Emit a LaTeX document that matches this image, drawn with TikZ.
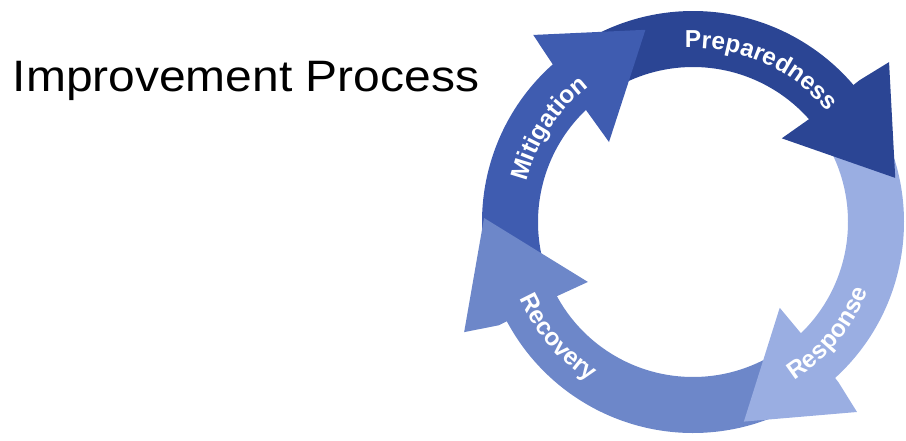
\documentclass[tikz,border=0pt]{standalone}
\usepackage{fontspec}
\setmainfont{Liberation Sans}
\usetikzlibrary{decorations.text}
\definecolor{prepc}{HTML}{2B4594}
\definecolor{mitic}{HTML}{3F5CB0}
\definecolor{recoc}{HTML}{6D87C9}
\definecolor{respc}{HTML}{9AAEE2}
\newcommand{\ringfont}{\bfseries\fontsize{24.5}{24.5}\selectfont}
\begin{document}
\begin{tikzpicture}[x=1pt,y=1pt,
  lbl/.style={decorate, decoration={text along path, text align=center, text color=white, text={|\ringfont|#1}}}]
\useasboundingbox (0,0) rectangle (906,440);
\node[anchor=base west, inner sep=0, font=\fontsize{44}{44}\selectfont, xscale=1.09] (title) at (12.5,348) {Improvement Process};
\begin{scope}[shift={(693,218)}]
  % bands
  \fill[respc] (39:211pt) arc[start angle=39,end angle=-49.5,radius=211pt] -- (-49.5:155pt) arc[start angle=-49.5,end angle=39,radius=155pt] -- cycle;
  \fill[recoc] (311:211pt) arc[start angle=311,end angle=206,radius=211pt] -- (206:155pt) arc[start angle=206,end angle=311,radius=155pt] -- cycle;
  \fill[mitic] (206:211pt) arc[start angle=206,end angle=129.5,radius=211pt] -- (129.5:155pt) arc[start angle=129.5,end angle=206,radius=155pt] -- cycle;
  \fill[prepc] (129.5:211pt) arc[start angle=129.5,end angle=38.5,radius=211pt] -- (38.5:155pt) arc[start angle=38.5,end angle=129.5,radius=155pt] -- cycle;
  % heads
  \fill[mitic] (131.7:210pt) -- (130.5:246pt) -- (103.9:198pt) -- (136.4:116pt) -- (133.9:151pt) -- cycle;
  \fill[prepc] (40.4:219pt) -- (39.2:253pt) -- (12.3:207pt) -- (43.3:122pt) -- (41.4:159pt) -- cycle;
  \fill[respc] (-47.8:217pt) -- (-49.2:251pt) -- (-75.7:206pt) -- (-44.7:122pt) -- (-46:160pt) -- cycle;
  \fill[recoc] (208:220pt) -- (205.7:254pt) -- (178.9:209pt) -- (209.7:121pt) -- (208.5:159pt) -- cycle;
  % labels
  \path[lbl=Preparedness] (106:174pt) arc[start angle=106,end angle=26,radius=174pt];
  \path[lbl=Mitigation] (187:171pt) arc[start angle=187,end angle=107,radius=171pt];
  \path[lbl=Response] (-79.5:188pt) arc[start angle=-79.5,end angle=0.5,radius=188pt];
  \path[lbl=Recovery] (180.5:190pt) arc[start angle=180.5,end angle=260.5,radius=190pt];
\end{scope}
\end{tikzpicture}
\end{document}
